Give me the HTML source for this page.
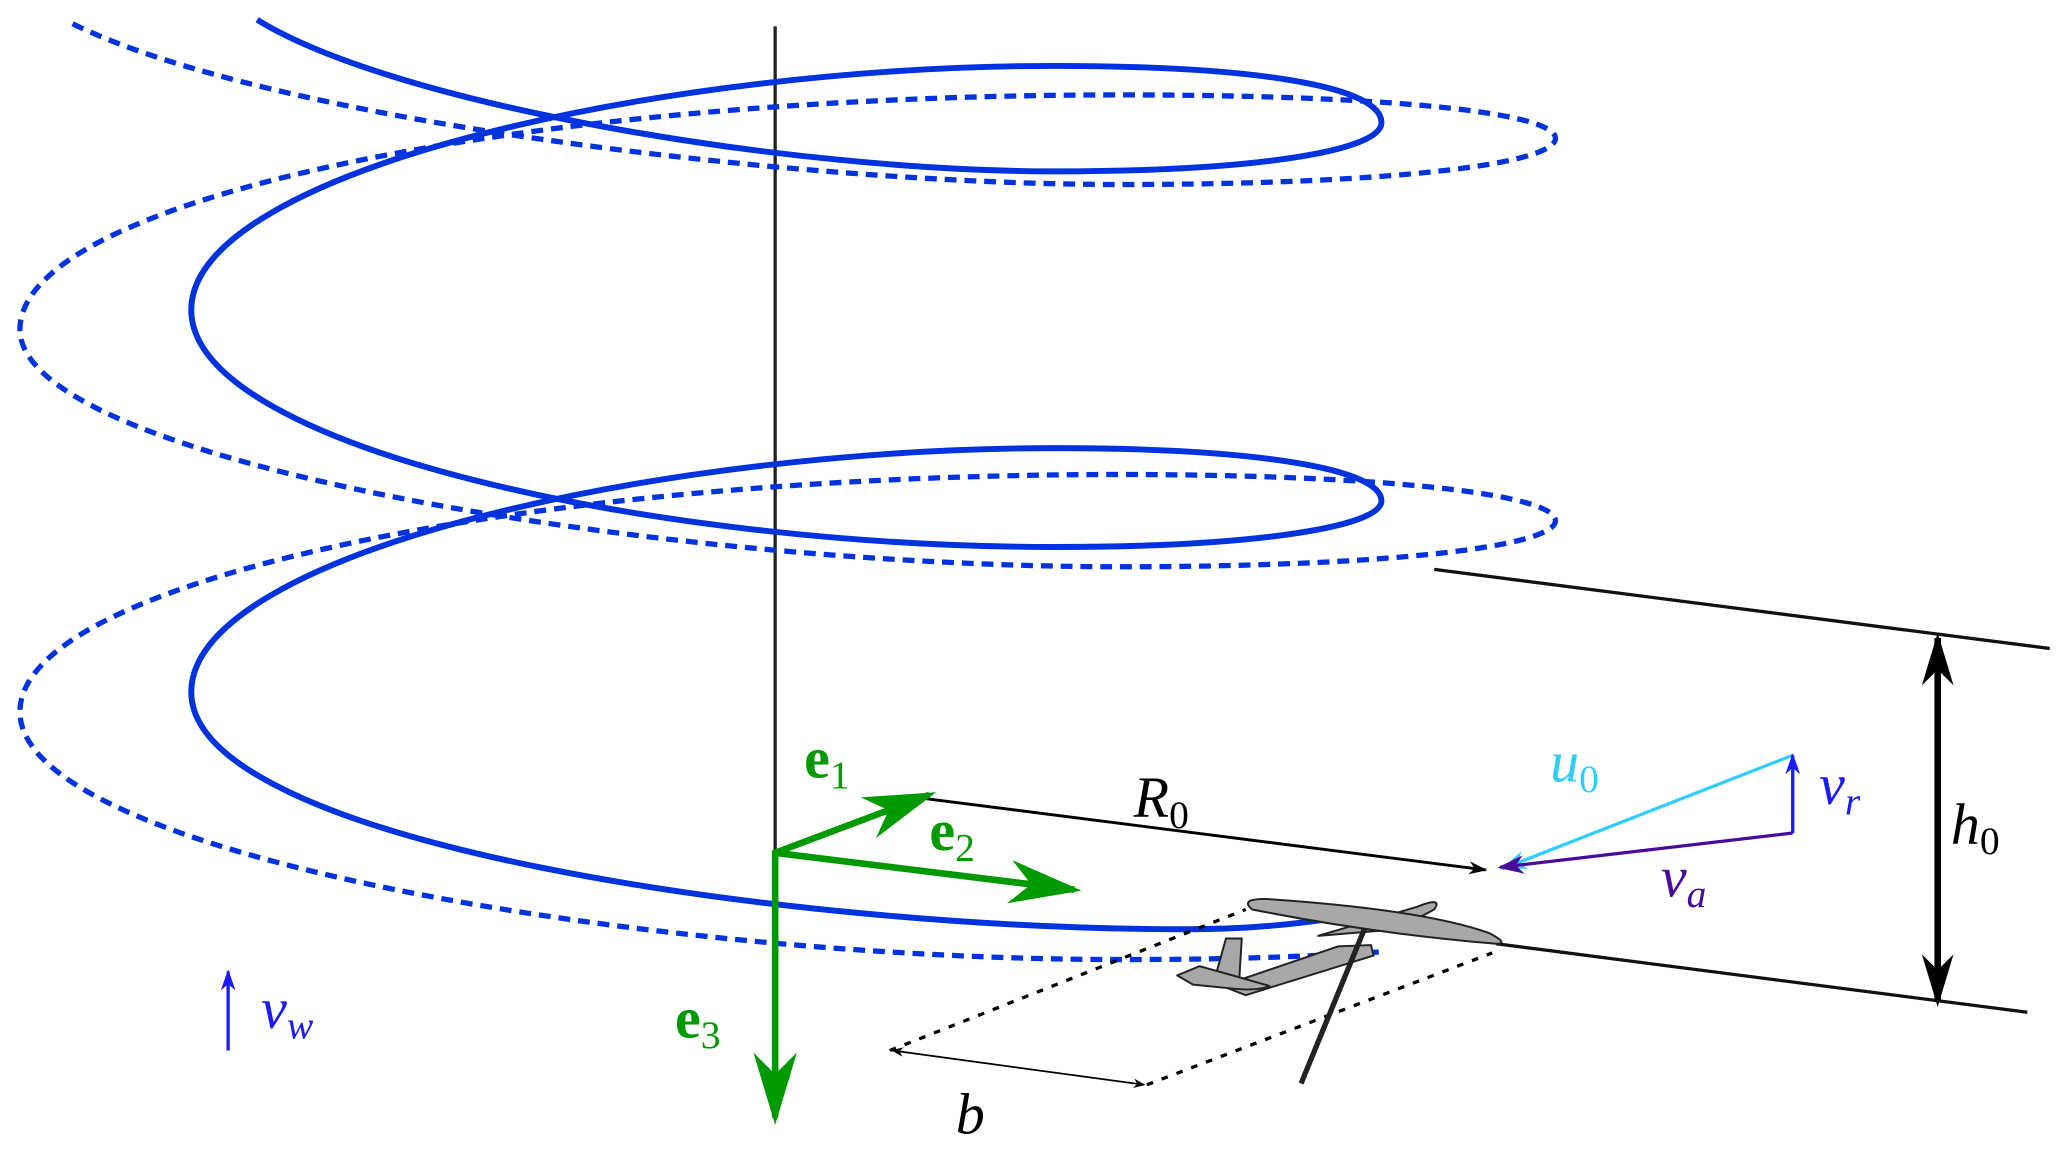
<!DOCTYPE html>
<html><head><meta charset="utf-8"><style>html,body{margin:0;padding:0;background:#fff}svg{display:block}text{font-family:"Liberation Serif",serif}</style></head>
<body>
<svg width="2067" height="1152" viewBox="0 0 1568 874" xmlns="http://www.w3.org/2000/svg">
<defs>
<marker id="ab" viewBox="0 0 10 10" refX="9" refY="5" markerWidth="14" markerHeight="14" orient="auto-start-reverse" markerUnits="userSpaceOnUse"><path d="M0,1.5 L10,5 L0,8.5 L3,5z" fill="#000"/></marker>
<marker id="abs" viewBox="0 0 10 10" refX="9" refY="5" markerWidth="9" markerHeight="9" orient="auto-start-reverse" markerUnits="userSpaceOnUse"><path d="M0,1 L10,5 L0,9 L3,5z" fill="#000"/></marker>
<marker id="ab2" viewBox="0 0 10 10" refX="9" refY="5" markerWidth="40" markerHeight="40" orient="auto-start-reverse" markerUnits="userSpaceOnUse"><path d="M0,2 L10,5 L0,8 L3,5z" fill="#000"/></marker>
<marker id="ag" viewBox="0 0 10 10" refX="9" refY="5" markerWidth="55" markerHeight="55" orient="auto" markerUnits="userSpaceOnUse"><path d="M0,2 L10,5 L0,8 L3,5z" fill="#009900"/></marker>
<marker id="ap" viewBox="0 0 10 10" refX="9" refY="5" markerWidth="20" markerHeight="20" orient="auto" markerUnits="userSpaceOnUse"><path d="M0,1.5 L10,5 L0,8.5 L3,5z" fill="#4a0a9a"/></marker>
<marker id="ac" viewBox="0 0 10 10" refX="9" refY="5" markerWidth="20" markerHeight="20" orient="auto" markerUnits="userSpaceOnUse"><path d="M0,1.5 L10,5 L0,8.5 L3,5z" fill="#33ccff"/></marker>
<marker id="abl" viewBox="0 0 10 10" refX="9" refY="5" markerWidth="16" markerHeight="16" orient="auto" markerUnits="userSpaceOnUse"><path d="M0,1.5 L10,5 L0,8.5 L3,5z" fill="#1a1aff"/></marker>
</defs>
<line x1="588" y1="20" x2="588" y2="647" stroke="#222" stroke-width="2.5"/>
<path d="M55,18 C200,90 600,140 850,140 C1050,140 1180,125 1180,105 C1180,85 1050,72 850,72 C400,72 15,150 15,250 C15,350 500,430 850,430 C1050,430 1180,415 1180,395 C1180,375 1050,360 850,360 C400,360 15,440 15,540 C15,650 500,728 850,728 C950,728 1000,725 1050,722" fill="none" stroke="#0033dd" stroke-width="4" stroke-dasharray="9,6"/>
<path d="M195,15 C300,80 600,130 800,130 C950,130 1048,115 1048,93 C1048,65 950,50 800,50 C500,50 145,130 145,235 C145,340 500,415 800,415 C950,415 1048,400 1048,380 C1048,355 950,340 800,340 C500,340 145,420 145,525 C145,640 600,705 900,705 C950,705 990,700 1010,697" fill="none" stroke="#0033dd" stroke-width="4.5"/>
<line x1="1088" y1="432" x2="1555" y2="492" stroke="#111" stroke-width="2.5"/>
<line x1="1135" y1="716" x2="1538" y2="768" stroke="#111" stroke-width="2.5"/>
<line x1="1470" y1="484" x2="1470" y2="760" stroke="#000" stroke-width="5" marker-start="url(#ab2)" marker-end="url(#ab2)"/>
<text x="1480" y="640" font-style="italic" font-size="44">h<tspan font-style="normal" font-size="30" dy="8">0</tspan></text>
<line x1="695" y1="605" x2="1127" y2="660" stroke="#000" stroke-width="2.2" marker-end="url(#ab)"/>
<text x="860" y="620" font-style="italic" font-size="44">R<tspan font-style="normal" font-size="30" dy="8">0</tspan></text>
<line x1="1360" y1="573" x2="1140" y2="659" stroke="#33ccff" stroke-width="2.5" marker-end="url(#ac)"/>
<line x1="1360" y1="632" x2="1138" y2="658" stroke="#4a0a9a" stroke-width="2.5" marker-end="url(#ap)"/>
<line x1="1360" y1="632" x2="1360" y2="573" stroke="#1a1aff" stroke-width="2.5" marker-end="url(#abl)"/>
<text x="1176" y="593" fill="#33ccff" font-style="italic" font-size="44">u<tspan font-style="normal" font-size="30" dy="8">0</tspan></text>
<text x="1380" y="610" fill="#1a1aff" font-style="italic" font-size="44">v<tspan font-size="30" dy="8">r</tspan></text>
<text x="1260" y="680" fill="#4a0a9a" font-style="italic" font-size="44">v<tspan font-size="30" dy="8">a</tspan></text>
<line x1="173" y1="797" x2="173" y2="737" stroke="#1a1aff" stroke-width="2.5" marker-end="url(#abl)"/>
<text x="198" y="780" fill="#1a1aff" font-style="italic" font-size="44">v<tspan font-size="30" dy="8">w</tspan></text>
<line x1="675" y1="797" x2="945" y2="690" stroke="#000" stroke-width="2.5" stroke-dasharray="5,7"/>
<line x1="870" y1="823" x2="1132" y2="723" stroke="#000" stroke-width="2.5" stroke-dasharray="5,7"/>
<line x1="677" y1="797" x2="868" y2="823" stroke="#000" stroke-width="1.3" marker-start="url(#abs)" marker-end="url(#abs)"/>
<text x="725" y="860" font-style="italic" font-size="44">b</text>
<g fill="#a8a8a8" stroke="#222" stroke-width="1.5" stroke-linejoin="round">
<path d="M1000,710 L1075,688 Q1095,680 1088,690 L1060,705z"/>
<path d="M927,748 L1015,718 L1040,717 L1042,725 L945,755z"/>
<path d="M920,748 L930,712 L942,712 L940,745z"/>
<path d="M893,740 L910,733 L935,740 L963,748 Q955,752 935,750 L905,747z"/>
<path d="M950,690 Q940,682 960,682 Q1080,690 1130,708 Q1145,716 1135,716 Q1040,708 950,690z"/>
</g>
<line x1="1035" y1="705" x2="987" y2="822" stroke="#222" stroke-width="4"/>
<line x1="588" y1="647" x2="705" y2="603" stroke="#009900" stroke-width="5" marker-end="url(#ag)"/>
<line x1="588" y1="647" x2="815" y2="675" stroke="#009900" stroke-width="5" marker-end="url(#ag)"/>
<line x1="588" y1="645" x2="588" y2="848" stroke="#009900" stroke-width="5" marker-end="url(#ag)"/>
<text x="610" y="590" fill="#009900" font-weight="bold" font-size="44">e<tspan font-weight="normal" font-size="30" dy="8">1</tspan></text>
<text x="705" y="645" fill="#009900" font-weight="bold" font-size="44">e<tspan font-weight="normal" font-size="30" dy="8">2</tspan></text>
<text x="512" y="787" fill="#009900" font-weight="bold" font-size="44">e<tspan font-weight="normal" font-size="30" dy="8">3</tspan></text>
</svg>
</body></html>
